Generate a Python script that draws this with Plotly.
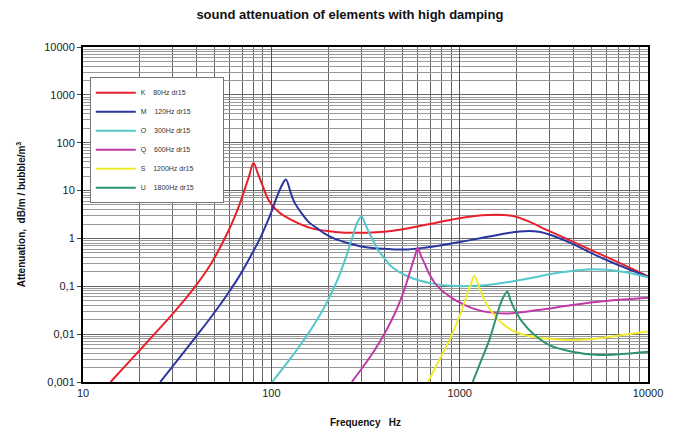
import plotly.graph_objects as go

# --- data ---
pad = "\u00a0" * 12
names = ["K    80Hz dr15" + pad, "M    120Hz dr15" + pad, "O    300Hz dr15" + pad,
         "Q    600Hz dr15" + pad, "S    1200Hz dr15" + pad, "U    1800Hz dr15" + pad]
colors = ["#e8202a", "#2a35a0", "#55c8cc", "#c03aa8", "#f0ea30", "#2e9470"]

k_f = [14, 17.8, 22.4, 28.2, 31.6, 35.5, 39.8, 44.7, 50.1, 56.2, 59.6, 63.1, 67.6, 72.4, 75.9, 80.5,
       85, 89, 96.8, 109, 128.5, 164, 218, 290, 434, 651, 978, 1406, 1945, 2383, 2917, 4375, 6562, 10000]
k_v = [0.001, 0.0028, 0.0075, 0.0203, 0.034, 0.0585, 0.104, 0.196, 0.405, 0.948, 1.52, 2.52, 4.97, 11.0, 19.1, 37.5,
       22, 14, 6.3, 3.6, 2.41, 1.62, 1.37, 1.31, 1.43, 1.9, 2.62, 3.1, 2.92, 2.16, 1.49, 0.724, 0.352, 0.162]

m_f = [25.7, 31.6, 39.8, 46.7, 52.5, 59.6, 66.1, 72.4, 79.4, 87.1, 93.3, 100, 104.7, 109.6, 114.8, 119.4,
       128, 133.5, 145, 157.5, 178, 193, 218, 257, 300, 354, 450, 532, 650, 800, 1020, 1406, 2089, 2630, 3200, 3920, 5780, 10000]
m_v = [0.001, 0.0028, 0.0089, 0.02, 0.0373, 0.0759, 0.141, 0.259, 0.5, 1.0, 1.82, 3.55, 5.9, 9.3, 13.8, 17,
       8.0, 5.4, 3.33, 2.22, 1.55, 1.25, 0.98, 0.79, 0.68, 0.62, 0.59, 0.59, 0.64, 0.72, 0.85, 1.08, 1.40, 1.38, 1.1, 0.79, 0.38, 0.158]

o_f = [101, 114.8, 128.8, 144.5, 162.2, 182, 199.5, 218.8, 234.4, 251.2, 269.2, 285.1, 301.3,
       315, 327, 345, 369, 400, 434, 532, 708, 978, 1436, 2100, 2600, 3150, 3960, 4720, 5600, 6400, 8000, 10000]
o_v = [0.001, 0.0019, 0.00343, 0.00638, 0.01245, 0.026, 0.0505, 0.108, 0.209, 0.447, 1.045, 2.08, 2.9,
       2.0, 1.45, 0.95, 0.57, 0.38, 0.26, 0.16, 0.115, 0.101, 0.108, 0.135, 0.158, 0.186, 0.21, 0.225, 0.225, 0.217, 0.19, 0.155]

q_f = [267.3, 309, 354, 398, 433.5, 467.7, 501.2, 530.9, 562.3, 582.1, 598.4,
       625, 651, 690, 735, 800, 868, 957, 1172, 1436, 1760, 2600, 3960, 5920, 10000]
q_v = [0.001, 0.00216, 0.00468, 0.01005, 0.0191, 0.0363, 0.0724, 0.1445, 0.305, 0.462, 0.63,
       0.42, 0.30, 0.18, 0.12, 0.083, 0.065, 0.05, 0.0345, 0.0285, 0.027, 0.0318, 0.0405, 0.049, 0.0575]

s_f = [678, 797, 880, 950, 1020, 1090, 1150, 1197, 1288, 1360, 1436, 1540, 1660, 1870, 2100, 2600, 3200, 3920, 5000, 5920, 7500, 10000]
s_v = [0.001, 0.0034, 0.0075, 0.0146, 0.03, 0.065, 0.115, 0.166, 0.08, 0.05, 0.0345, 0.024, 0.0175, 0.0125, 0.0102, 0.0085, 0.0078, 0.0075, 0.0078, 0.0085, 0.0097, 0.0114]

u_f = [1172, 1300, 1436, 1520, 1589, 1690, 1790, 1860, 1945, 2050, 2150, 2440, 2990, 3960, 5480, 7230, 10000]
u_v = [0.001, 0.0028, 0.0075, 0.0155, 0.028, 0.055, 0.0768, 0.052, 0.0345, 0.024, 0.018, 0.0104, 0.0059, 0.0043, 0.00366, 0.00385, 0.0043]

x_ticks = [10, 100, 1000, 10000]
x_labels = ["10", "100", "1000", "10000"]
y_ticks = [0.001, 0.01, 0.1, 1, 10, 100, 1000, 10000]
y_labels = ["0,001", "0,01", "0,1", "1", "10", "100", "1000", "10000"]

series = [(k_f, k_v), (m_f, m_v), (o_f, o_v), (q_f, q_v), (s_f, s_v), (u_f, u_v)]

fig = go.Figure()
for (f, v), n, c in zip(series, names, colors):
    fig.add_trace(go.Scatter(x=f, y=v, mode="lines", name=n,
                             line=dict(color=c, width=2, shape="spline", smoothing=1.0)))

font_family = "Liberation Sans, Arial, sans-serif"
fig.update_layout(
    width=681, height=432,
    margin=dict(l=72, r=41, t=39, b=58),
    paper_bgcolor="white", plot_bgcolor="white",
    font=dict(family=font_family, color="#222"),
    title=dict(text="<b>sound attenuation of elements with high damping</b>",
               x=0.502, xanchor="center", y=0.984, yanchor="middle",
               font=dict(size=13, color="#111")),
    showlegend=True,
    legend=dict(x=0.012, y=0.91, xanchor="left", yanchor="top",
                bgcolor="white", bordercolor="#777", borderwidth=1,
                font=dict(size=7, color="#333"), itemwidth=40),
)
fig.update_xaxes(
    type="log", range=[1, 4],
    tickvals=x_ticks, ticktext=x_labels, tickfont=dict(size=11, color="#222"),
    showgrid=True, gridcolor="#555", gridwidth=1,
    minor=dict(dtick="D1", showgrid=True, gridcolor="#666", gridwidth=1),
    showline=True, linecolor="black", linewidth=2, mirror=True,
    ticks="", zeroline=False,
    title=dict(text="<b>Frequency   Hz</b>", font=dict(size=10, color="#111"), standoff=21),
)
fig.update_yaxes(
    type="log", range=[-3, 4],
    tickvals=y_ticks, ticktext=y_labels, tickfont=dict(size=11, color="#222"),
    showgrid=True, gridcolor="#666", gridwidth=1,
    minor=dict(dtick="D1", showgrid=True, gridcolor="#999", gridwidth=1),
    showline=True, linecolor="black", linewidth=2, mirror=True,
    ticks="outside", ticklen=4, tickcolor="#444", zeroline=False,
    title=dict(text="<b>Attenuation,  dB/m / bubble/m<sup>3</sup></b>",
               font=dict(size=10, color="#111"), standoff=17),
)

fig.write_html("out.html")
